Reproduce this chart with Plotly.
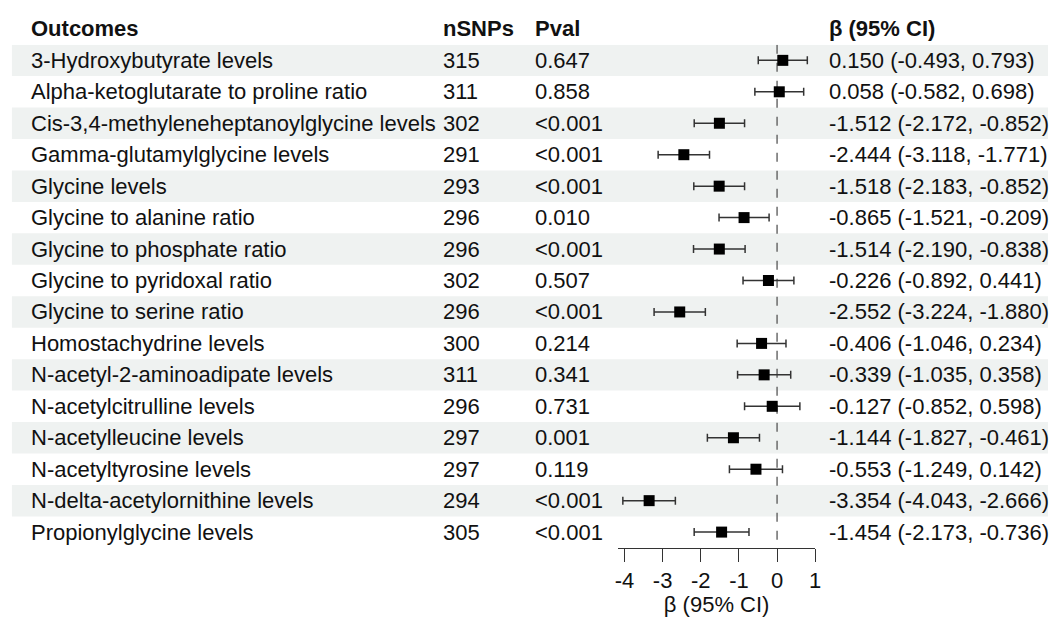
import plotly.graph_objects as go

outcomes = [
    "3-Hydroxybutyrate levels",
    "Alpha-ketoglutarate to proline ratio",
    "Cis-3,4-methyleneheptanoylglycine levels",
    "Gamma-glutamylglycine levels",
    "Glycine levels",
    "Glycine to alanine ratio",
    "Glycine to phosphate ratio",
    "Glycine to pyridoxal ratio",
    "Glycine to serine ratio",
    "Homostachydrine levels",
    "N-acetyl-2-aminoadipate levels",
    "N-acetylcitrulline levels",
    "N-acetylleucine levels",
    "N-acetyltyrosine levels",
    "N-delta-acetylornithine levels",
    "Propionylglycine levels",
]
nsnps = [315, 311, 302, 291, 293, 296, 296, 302, 296, 300, 311, 296, 297, 297, 294, 305]
pvals = ["0.647", "0.858", "<0.001", "<0.001", "<0.001", "0.010", "<0.001", "0.507",
         "<0.001", "0.214", "0.341", "0.731", "0.001", "0.119", "<0.001", "<0.001"]
beta = [0.150, 0.058, -1.512, -2.444, -1.518, -0.865, -1.514, -0.226,
        -2.552, -0.406, -0.339, -0.127, -1.144, -0.553, -3.354, -1.454]
lower = [-0.493, -0.582, -2.172, -3.118, -2.183, -1.521, -2.190, -0.892,
         -3.224, -1.046, -1.035, -0.852, -1.827, -1.249, -4.043, -2.173]
upper = [0.793, 0.698, -0.852, -1.771, -0.852, -0.209, -0.838, 0.441,
         -1.880, 0.234, 0.358, 0.598, -0.461, 0.142, -2.666, -0.736]
tick_vals = [-4, -3, -2, -1, 0, 1]
headers = ["Outcomes", "nSNPs", "Pval", "β (95% CI)"]

W, H = 1054, 617
FONT = "Liberation Sans, Arial, sans-serif"
FS = 22
TXT = "#111111"

rows = list(range(1, len(outcomes) + 1))

fig = go.Figure()
fig.add_trace(go.Scatter(
    x=beta, y=rows, mode="markers",
    marker=dict(symbol="square", size=11, color="black"),
    error_x=dict(type="data", symmetric=False,
                 array=[u - b for u, b in zip(upper, beta)],
                 arrayminus=[b - l for b, l in zip(beta, lower)],
                 color="#333333", thickness=1.5, width=4),
    cliponaxis=False, showlegend=False, hoverinfo="skip",
))

shapes = []
for r in rows:
    if r % 2 == 1:
        shapes.append(dict(type="rect", xref="paper", yref="y",
                           x0=9 / W, x1=1.0, y0=r - 0.5, y1=r + 0.5,
                           fillcolor="#eff2f1", line=dict(width=0), layer="below"))
shapes.append(dict(type="line", xref="x", yref="y", x0=0, x1=0, y0=0.5, y1=16.5,
                   line=dict(color="#555555", width=1.3, dash="dash"), layer="below"))

col_x = [26 / W, 442 / W, 535 / W, 831 / W]
ann = []
for text, cx in zip(headers, col_x):
    ann.append(dict(x=cx, y=(H - 28.5) / H, xref="paper", yref="paper",
                    text="<b>" + text + "</b>",
                    showarrow=False, xanchor="left", yanchor="middle",
                    font=dict(family=FONT, size=FS, color=TXT)))
for i, r in enumerate(rows):
    ci_txt = f"{beta[i]:.3f} ({lower[i]:.3f}, {upper[i]:.3f})"
    for text, cx in zip([outcomes[i], str(nsnps[i]), pvals[i], ci_txt], col_x):
        ann.append(dict(x=cx, y=r, xref="paper", yref="y", text=text,
                        showarrow=False, xanchor="left", yanchor="middle",
                        font=dict(family=FONT, size=FS, color=TXT)))

fig.update_layout(
    width=W, height=H, margin=dict(l=0, r=0, t=0, b=0),
    paper_bgcolor="white", plot_bgcolor="rgba(0,0,0,0)",
    shapes=shapes, annotations=ann,
    xaxis=dict(domain=[620.3 / W, 819.2 / W], range=[-4.17, 1.0],
               showgrid=False, zeroline=False, showline=True,
               linecolor="#333333", linewidth=1.3,
               ticks="outside", ticklen=13, tickwidth=1.3, tickcolor="#333333",
               tickvals=tick_vals, ticktext=[str(v) for v in tick_vals],
               tickfont=dict(family=FONT, size=FS, color=TXT),
               title=dict(text="β (95% CI)", font=dict(family=FONT, size=FS, color=TXT),
                          standoff=8)),
    yaxis=dict(domain=[(H - 552.3) / H, (H - 45) / H], range=[16.5, 0.5],
               visible=False, showgrid=False, zeroline=False),
)

fig.write_html("out.html")
